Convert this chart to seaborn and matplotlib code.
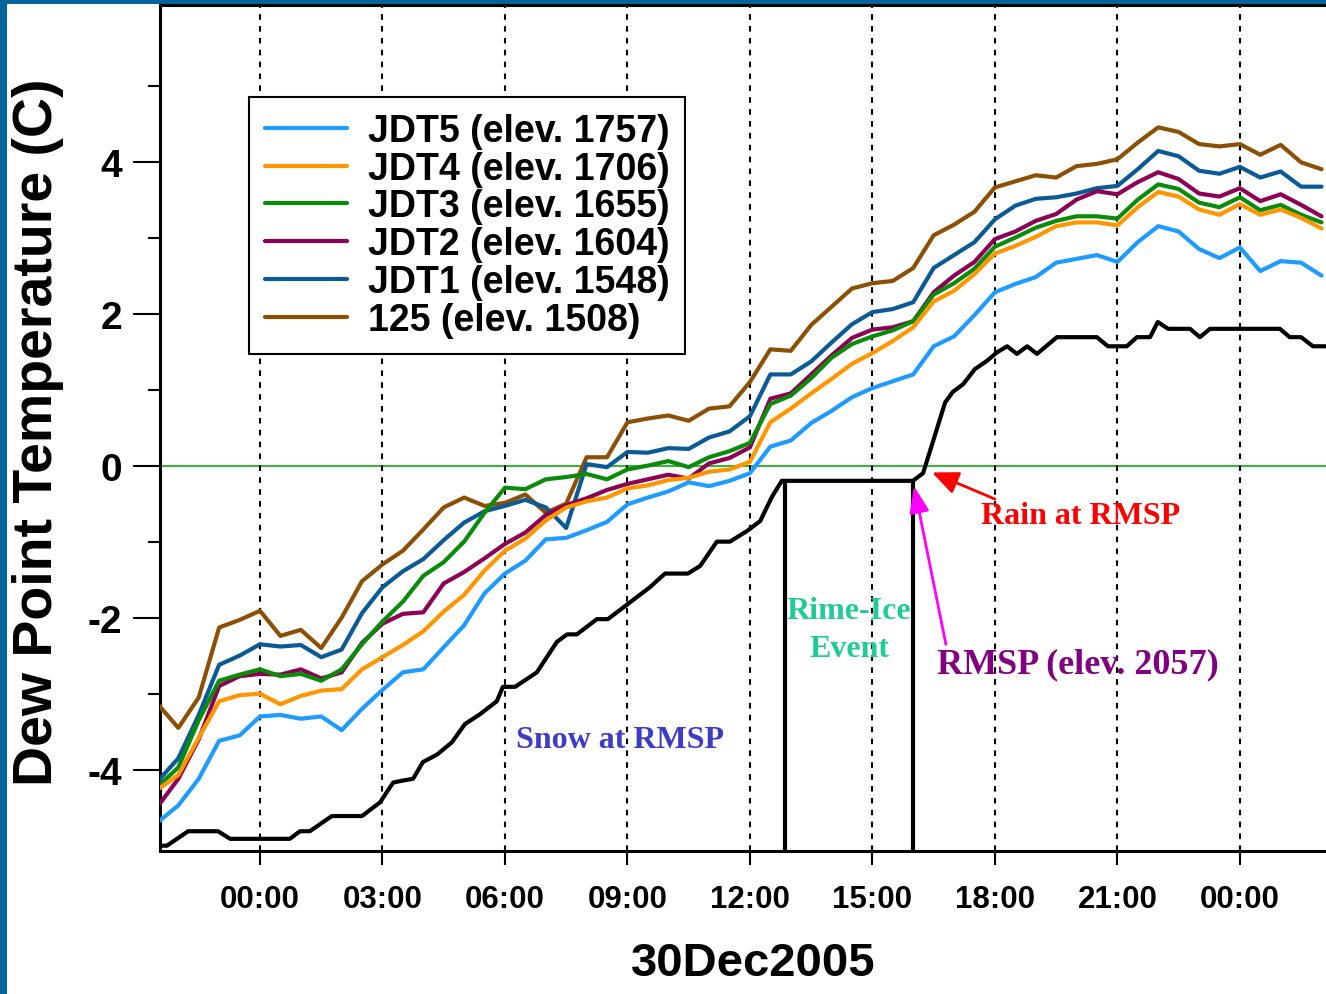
import numpy as np
import pandas as pd
import matplotlib
matplotlib.use('Agg')
import matplotlib.pyplot as plt
import seaborn as sns
from matplotlib.patches import Rectangle
from matplotlib.ticker import FixedLocator

# ---------------- data ----------------
hours = np.arange(-2.5, 26.01, 0.5)   # hours relative to 30Dec2005 00:00

jdt5 = [-4.69, -4.47, -4.12, -3.62, -3.55, -3.30, -3.28, -3.33, -3.30, -3.48,
        -3.20, -2.95, -2.72, -2.68, -2.39, -2.10, -1.68, -1.42, -1.25, -0.97,
        -0.95, -0.85, -0.74, -0.51, -0.42, -0.34, -0.22, -0.27, -0.20, -0.10,
        0.25, 0.33, 0.56, 0.72, 0.90, 1.02, 1.11, 1.20, 1.57, 1.70,
        1.98, 2.28, 2.39, 2.48, 2.67, 2.72, 2.77, 2.68, 2.94, 3.15,
        3.08, 2.85, 2.73, 2.87, 2.56, 2.69, 2.67, 2.50]
jdt4 = [-4.26, -4.07, -3.58, -3.10, -3.02, -3.00, -3.14, -3.03, -2.96, -2.94,
        -2.68, -2.52, -2.36, -2.18, -1.92, -1.70, -1.38, -1.12, -0.96, -0.72,
        -0.55, -0.47, -0.42, -0.30, -0.26, -0.19, -0.16, -0.08, -0.05, 0.05,
        0.57, 0.75, 0.95, 1.14, 1.34, 1.48, 1.64, 1.82, 2.16, 2.30,
        2.52, 2.79, 2.89, 3.01, 3.15, 3.20, 3.20, 3.16, 3.40, 3.60,
        3.54, 3.37, 3.30, 3.44, 3.30, 3.37, 3.26, 3.12]
jdt3 = [-4.22, -3.97, -3.35, -2.83, -2.75, -2.68, -2.77, -2.74, -2.83, -2.68,
        -2.35, -2.05, -1.79, -1.45, -1.27, -1.00, -0.62, -0.29, -0.31, -0.18,
        -0.15, -0.11, -0.18, -0.05, 0.00, 0.06, -0.02, 0.11, 0.19, 0.30,
        0.81, 0.92, 1.15, 1.42, 1.60, 1.70, 1.78, 1.90, 2.25, 2.40,
        2.59, 2.88, 3.00, 3.13, 3.22, 3.28, 3.28, 3.25, 3.50, 3.70,
        3.64, 3.46, 3.40, 3.53, 3.36, 3.43, 3.30, 3.20]
jdt2 = [-4.48, -4.12, -3.60, -2.90, -2.77, -2.74, -2.75, -2.68, -2.80, -2.72,
        -2.33, -2.08, -1.95, -1.93, -1.55, -1.40, -1.22, -1.03, -0.88, -0.65,
        -0.52, -0.43, -0.32, -0.24, -0.18, -0.12, -0.17, 0.03, 0.10, 0.24,
        0.88, 0.95, 1.20, 1.45, 1.68, 1.79, 1.82, 1.90, 2.28, 2.50,
        2.68, 2.98, 3.08, 3.22, 3.31, 3.50, 3.61, 3.57, 3.73, 3.86,
        3.77, 3.58, 3.54, 3.65, 3.48, 3.57, 3.43, 3.28]
jdt1 = [-4.15, -3.85, -3.28, -2.62, -2.50, -2.35, -2.38, -2.36, -2.52, -2.42,
        -1.94, -1.60, -1.39, -1.23, -0.98, -0.75, -0.60, -0.53, -0.45, -0.55,
        -0.82, 0.02, -0.02, 0.18, 0.17, 0.23, 0.22, 0.37, 0.45, 0.65,
        1.20, 1.20, 1.37, 1.62, 1.86, 2.02, 2.06, 2.15, 2.60, 2.77,
        2.94, 3.24, 3.42, 3.51, 3.53, 3.58, 3.65, 3.68, 3.90, 4.14,
        4.07, 3.88, 3.84, 3.93, 3.79, 3.87, 3.67, 3.67]
s125 = [-3.14, -3.45, -3.05, -2.13, -2.03, -1.91, -2.24, -2.16, -2.40, -2.00,
        -1.52, -1.30, -1.12, -0.84, -0.55, -0.42, -0.53, -0.49, -0.38, -0.62,
        -0.50, 0.11, 0.11, 0.57, 0.62, 0.66, 0.59, 0.75, 0.78, 1.10,
        1.53, 1.51, 1.85, 2.09, 2.33, 2.40, 2.43, 2.60, 3.03, 3.17,
        3.34, 3.66, 3.74, 3.82, 3.79, 3.94, 3.97, 4.03, 4.25, 4.45,
        4.39, 4.23, 4.20, 4.23, 4.09, 4.22, 3.99, 3.90]

rmsp_hours = [-2.45, -2.28, -1.76, -1.03, -0.73, 0.73, 0.98, 1.22, 1.76, 2.50,
              2.94, 3.26, 3.43, 3.75, 3.99, 4.34, 4.70, 5.02, 5.39, 5.80,
              5.95, 6.25, 6.78, 7.27, 7.52, 7.76, 8.25, 8.52, 9.06, 9.55,
              9.92, 10.48, 10.78, 11.19, 11.51, 11.93, 12.25, 12.54, 12.78, 15.99,
              16.24, 16.48, 16.78, 16.97, 17.22, 17.51, 17.81, 18.05, 18.30, 18.54,
              18.79, 19.03, 19.52, 20.50, 20.77, 21.23, 21.48, 21.80, 21.99, 22.24,
              22.78, 23.02, 23.27, 24.98, 25.22, 25.50, 25.79, 26.10]
rmsp_vals = [-5.00, -5.00, -4.81, -4.81, -4.91, -4.91, -4.81, -4.81, -4.61, -4.61,
             -4.43, -4.17, -4.15, -4.12, -3.90, -3.80, -3.64, -3.40, -3.27, -3.10,
             -2.91, -2.91, -2.72, -2.32, -2.22, -2.22, -2.02, -2.02, -1.80, -1.60,
             -1.42, -1.42, -1.32, -1.00, -1.00, -0.86, -0.73, -0.41, -0.20, -0.20,
             -0.10, 0.31, 0.83, 0.97, 1.07, 1.27, 1.38, 1.49, 1.57, 1.47,
             1.57, 1.47, 1.69, 1.69, 1.57, 1.57, 1.69, 1.69, 1.89, 1.80,
             1.80, 1.69, 1.80, 1.80, 1.69, 1.69, 1.57, 1.57]

rime_bounds = [12.86, 15.99]

station_names = ['JDT5 (elev. 1757)', 'JDT4 (elev. 1706)', 'JDT3 (elev. 1655)',
                 'JDT2 (elev. 1604)', 'JDT1 (elev. 1548)', '125 (elev. 1508)']
station_values = [jdt5, jdt4, jdt3, jdt2, jdt1, s125]
station_colors = ['#1e9bff', '#ff9600', '#0a8c0a', '#8c0055', '#0a5a96', '#8c5005']

tick_hours = [0, 3, 6, 9, 12, 15, 18, 21, 24]
tick_labels = ['00:00', '03:00', '06:00', '09:00', '12:00', '15:00', '18:00', '21:00', '00:00']

# ---------------- build table ----------------
frames = []
for name, vals in zip(station_names, station_values):
    frames.append(pd.DataFrame({'hours': hours, 'temp': vals, 'station': name}))
df = pd.concat(frames, ignore_index=True)

# ---------------- style ----------------
sns.set_style('ticks')
plt.rcParams['font.family'] = ['Liberation Sans', 'DejaVu Sans']
plt.rcParams['font.weight'] = 'bold'
plt.rcParams['axes.labelweight'] = 'bold'
plt.rcParams['text.color'] = 'black'
plt.rcParams['axes.labelcolor'] = 'black'
plt.rcParams['xtick.color'] = 'black'
plt.rcParams['ytick.color'] = 'black'
plt.rcParams['axes.unicode_minus'] = False

W, H = 1326, 995
fig = plt.figure(figsize=(W / 100, H / 100), dpi=100)
fig.patch.set_facecolor('white')
ax = fig.add_axes([160 / W, 1 - 852 / H, 1 - 160 / W, (852 - 6) / H])
ax.set_facecolor('white')

ax.set_xlim(-2.449, 26.11)
ax.set_ylim(-5.07, 6.06)

# reference lines
ax.axhline(0, color='#3cb43c', lw=1.5, zorder=1)
for h in tick_hours:
    ax.axvline(h, color='black', lw=1.5, ls=(0, (2.7, 3.0)), zorder=1)

# station lines (drawn so that JDT5 ends on top)
palette = dict(zip(station_names, station_colors))
sns.lineplot(data=df, x='hours', y='temp', hue='station',
             hue_order=station_names[::-1], palette=palette,
             linewidth=3.0, estimator=None, sort=False, ax=ax, zorder=3)

# RMSP
sns.lineplot(x=rmsp_hours, y=rmsp_vals, color='black', linewidth=3.0,
             estimator=None, sort=False, ax=ax, zorder=4, legend=False)
ax.vlines(rime_bounds, -5.07, -0.2, color='black', lw=3.0, zorder=4)

# legend
handles, labels = ax.get_legend_handles_labels()
hmap = dict(zip(labels, handles))
leg = ax.legend([hmap[n] for n in station_names], station_names,
                loc='upper left', bbox_to_anchor=((249 - 160) / 1166, (852 - 98) / 846),
                borderaxespad=0, handlelength=2.2, handletextpad=0.55,
                labelspacing=0.05, borderpad=0.42, fancybox=False, framealpha=1,
                prop={'weight': 'bold', 'size': 27})
leg.get_frame().set_edgecolor('black')
leg.get_frame().set_linewidth(1.5)
for ln in leg.get_lines():
    ln.set_linewidth(3)
for t in leg.get_texts():
    t.set_color('black')

# annotations
serif = ['Liberation Serif', 'DejaVu Serif']
ax.text(8.82, -3.6, 'Snow at RMSP', color='#3c3cc8', fontsize=23,
        family=serif, weight='bold', ha='center', va='center', zorder=6)
ax.text(14.43, -2.16, 'Rime-Ice\nEvent', color='#1ecc98', fontsize=23,
        family=serif, weight='bold', ha='center', va='center', linespacing=1.4, zorder=6)
ax.text(20.11, -0.65, 'Rain at RMSP', color='red', fontsize=23,
        family=serif, weight='bold', ha='center', va='center', zorder=6)
ax.text(20.03, -2.61, 'RMSP (elev. 2057)', color='#800080', fontsize=26,
        family=serif, weight='bold', ha='center', va='center', zorder=6)

ax.annotate('', xy=(16.46, -0.09), xytext=(18.0, -0.44),
            arrowprops=dict(arrowstyle='-|>,head_length=0.8,head_width=0.35',
                            color='red', lw=2, mutation_scale=20,
                            shrinkA=0, shrinkB=0), zorder=6)
ax.annotate('', xy=(16.02, -0.27), xytext=(16.8, -2.35),
            arrowprops=dict(arrowstyle='-|>,head_length=0.8,head_width=0.3',
                            color='#ff00ff', lw=2, mutation_scale=20,
                            shrinkA=0, shrinkB=0), zorder=6)

# axes / ticks
ax.xaxis.set_major_locator(FixedLocator(tick_hours))
ax.set_xticklabels(tick_labels)
ax.yaxis.set_major_locator(FixedLocator([-4, -2, 0, 2, 4]))
ax.yaxis.set_minor_locator(FixedLocator([-3, -1, 1, 3, 5]))
ax.tick_params(axis='x', which='major', length=10, width=1.5, labelsize=22.5, pad=14,
               direction='out', colors='black')
ax.tick_params(axis='y', which='major', length=19.4, width=1.5, labelsize=28, pad=8,
               direction='out', colors='black')
ax.tick_params(axis='y', which='minor', length=8.6, width=1.5, direction='out',
               left=True, colors='black')
for lab in ax.get_xticklabels() + ax.get_yticklabels():
    lab.set_fontweight('bold')

for side in ['left', 'bottom', 'top']:
    ax.spines[side].set_color('black')
    ax.spines[side].set_linewidth(2.2)
ax.spines['right'].set_visible(False)

ax.set_xlabel('30Dec2005', fontsize=34, fontweight='bold', color='black')
ax.xaxis.set_label_coords((753 - 160) / 1166, (852 - 964) / 846)
ax.xaxis.label.set_va('center')
ax.set_ylabel('Dew Point Temperature (C)', fontsize=40, fontweight='bold', color='black')
ax.yaxis.set_label_coords((38 - 160) / 1166, (852 - 432) / 846)
ax.yaxis.label.set_va('center')

# blue frame strips
blue = '#00639c'
fig.add_artist(Rectangle((0, 0), 7 / W, 1, transform=fig.transFigure,
                         facecolor=blue, edgecolor='none', zorder=10))
fig.add_artist(Rectangle((0, 1 - 5 / H), 1, 5 / H, transform=fig.transFigure,
                         facecolor=blue, edgecolor='none', zorder=10))

fig.savefig('out.png', dpi=100)
